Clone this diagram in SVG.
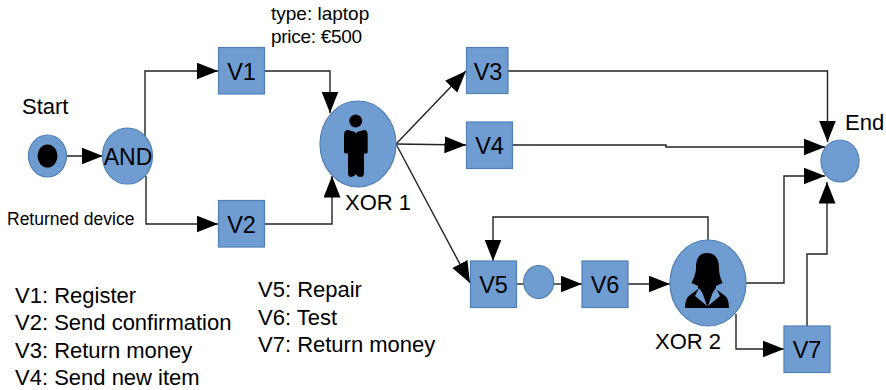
<svg xmlns="http://www.w3.org/2000/svg" width="886" height="390" viewBox="0 0 886 390">
<style>
text{font-family:"Liberation Sans",Arial,sans-serif;fill:#000}
.t{font-size:22px}
.n{font-size:23.500px;text-anchor:middle}
.s{fill:#6f9dd1;stroke:#4f7fb5;stroke-width:1.2}
.c{fill:none;stroke:#222;stroke-width:1.4;marker-end:url(#a)}
.p{fill:none;stroke:#222;stroke-width:1.4}
</style>
<defs>
<marker id="a" markerUnits="userSpaceOnUse" markerWidth="23" markerHeight="18" refX="21.500" refY="8.500" orient="auto"><path d="M0 0L21.500 8.500L0 17Z" fill="#000"/></marker>
</defs>
<rect width="886" height="390" fill="#fff"/>
<g id="connectors">
<path class="c" d="M66 156H103"/>
<path class="c" d="M145 137V71H218"/>
<path class="c" d="M146 176V224H218"/>
<path class="c" d="M264 71H330V113"/>
<path class="c" d="M264 224H332V176"/>
<path class="c" d="M396 144L466 71"/>
<path class="c" d="M396 144L466 145"/>
<path class="c" d="M396 144L470 283"/>
<path class="c" d="M508 71H827.500V142"/>
<path class="c" d="M512 145H666V147H825"/>
<path class="c" d="M746 283H784V176H825"/>
<path class="c" d="M807 326V254H827V182"/>
<path class="c" d="M708 240V217H493V261"/>
<path class="p" d="M516 284H524"/>
<path class="c" d="M554 284H582"/>
<path class="c" d="M628 284H670"/>
<path class="c" d="M736 314V349H784"/>
</g>
<g id="start"><ellipse class="s" cx="47.500" cy="156" rx="19" ry="21"/><ellipse cx="47.500" cy="156" rx="10" ry="11.500" fill="#000"/><text class="t" x="22" y="114">Start</text></g>
<g id="and"><ellipse class="s" cx="127.500" cy="156" rx="25" ry="28"/><text x="128" y="165" font-size="23" text-anchor="middle">AND</text></g>
<g id="v1"><rect class="s" x="218.500" y="47.500" width="46" height="46.500"/><text class="n" x="241.500" y="80">V1</text></g>
<g id="v2"><rect class="s" x="218.500" y="200.500" width="46" height="46.500"/><text class="n" x="241.500" y="233">V2</text></g>
<g id="v3"><rect class="s" x="466.500" y="47.500" width="41.500" height="46"/><text class="n" x="488" y="80">V3</text></g>
<g id="v4"><rect class="s" x="466.500" y="122" width="46" height="46.500"/><text class="n" x="489.500" y="154">V4</text></g>
<g id="v5"><rect class="s" x="470.500" y="261" width="46" height="46.500"/><text class="n" x="493.500" y="293">V5</text></g>
<g id="gate"><ellipse class="s" cx="538.700" cy="282" rx="15" ry="16.500"/></g>
<g id="v6"><rect class="s" x="582" y="261" width="46" height="46.500"/><text class="n" x="605" y="293">V6</text></g>
<g id="v7"><rect class="s" x="784" y="326" width="46" height="46.500"/><text class="n" x="807" y="358">V7</text></g>
<g id="end"><ellipse class="s" cx="840" cy="161" rx="19" ry="21"/><text class="t" x="845" y="130">End</text></g>
<g id="xor1"><ellipse class="s" cx="358" cy="144" rx="38" ry="43"/>
<circle cx="355.700" cy="121" r="6.500" fill="#000"/>
<path d="M348 130L355 132L356 134L357 132L364 130Q367.700 130 367.700 135V152Q367.700 153.500 364 153.500V173Q364 177 360.500 177Q357 177 356 174Q354 177 351 177Q348 177 348 173V153.500Q344 153.500 344 152V135Q344 130 348 130Z" fill="#000"/>
<text class="t" x="345" y="210">XOR 1</text></g>
<g id="xor2"><ellipse class="s" cx="708" cy="283" rx="38" ry="43"/>
<path d="M707 253C716 253 719 260 719 268C719 276 722 281 722.500 283L716 286V289L724 295Q729 298 729 308H685Q685 298 690 295L698 289V286L691.500 283C693 280 696 274 696 268C696 260 698 253 707 253Z" fill="#000"/>
<path d="M699 288L695 296L707 306L702.500 293ZM716 288L720 296L708 306L712.500 293Z" fill="#6f9dd1"/>
<text class="t" x="655" y="349">XOR 2</text></g>
<g id="labels">
<text x="271" y="20" font-size="19">type: laptop</text>
<text x="271" y="43" font-size="19" letter-spacing="-0.300">price: €500</text>
<text x="7" y="225" font-size="17.500">Returned device</text>
<text class="t" x="15" y="302.500">V1: Register</text>
<text class="t" x="15" y="330">V2: Send confirmation</text>
<text class="t" x="15" y="357.500">V3: Return money</text>
<text class="t" x="15" y="385">V4: Send new item</text>
<text class="t" x="258" y="297">V5: Repair</text>
<text class="t" x="258" y="325">V6: Test</text>
<text class="t" x="258" y="352">V7: Return money</text>
</g>
</svg>
